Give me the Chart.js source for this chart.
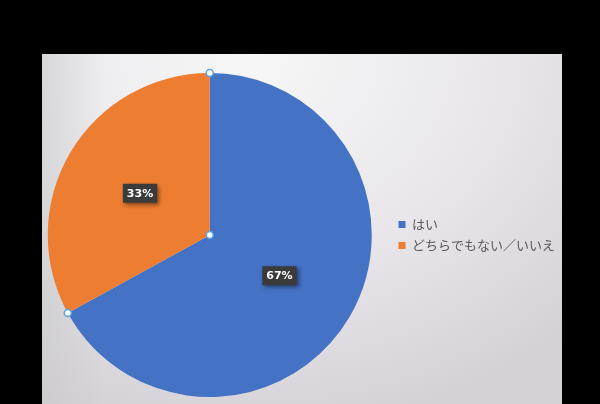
<!DOCTYPE html>
<html>
<head>
<meta charset="utf-8">
<script src="https://cdn.jsdelivr.net/npm/chart.js@4/dist/chart.umd.min.js"></script>
<style>
  html, body { margin: 0; padding: 0; background: #000; }
  body { width: 600px; height: 404px; position: relative; overflow: hidden; }
  #panel {
    position: absolute; left: 42px; top: 54px; width: 520px; height: 350px;
    background:
      linear-gradient(to right, rgba(200,200,200,0.55) 0%, rgba(220,220,220,0) 12%),
      radial-gradient(ellipse 90% 110% at 40% 0%, #f7f7f7 0%, #e8e6ea 55%, #d4d1d6 100%);
  }
  #wrap { position: absolute; left: 29px; top: 54px; width: 536px; height: 350px; }
</style>
</head>
<body>
<div id="panel"></div>
<div id="wrap"><canvas id="chart"></canvas></div>
<script>
// 回答の割合
const answers = ["はい", "どちらでもない／いいえ"];
const shares = [67, 33];
const sliceColors = ["#4472c4", "#ed7d31"];

// % labels in dark boxes, like the excel data labels
const percentLabels = {
  id: "percentLabels",
  afterDatasetsDraw(chart) {
    const ctx = chart.ctx;
    const meta = chart.getDatasetMeta(0);
    const total = shares.reduce((a, b) => a + b, 0);
    ctx.save();
    ctx.font = "bold 11px 'DejaVu Sans', sans-serif";
    ctx.textAlign = "center";
    ctx.textBaseline = "middle";
    meta.data.forEach((arc, i) => {
      const p = arc.getProps(["x", "y", "startAngle", "endAngle", "outerRadius"], true);
      const mid = (p.startAngle + p.endAngle) / 2;
      const x = p.x + Math.cos(mid) * p.outerRadius * 0.5;
      const y = p.y + Math.sin(mid) * p.outerRadius * 0.5;
      const txt = Math.round(shares[i] / total * 100) + "%";
      const w = ctx.measureText(txt).width + 8;
      ctx.shadowColor = "rgba(0,0,0,0.45)";
      ctx.shadowBlur = 4;
      ctx.shadowOffsetX = 2;
      ctx.shadowOffsetY = 2;
      ctx.fillStyle = "#3b3b3b";
      ctx.fillRect(x - w / 2, y - 10, w, 19);
      ctx.shadowColor = "transparent";
      ctx.fillStyle = "#ffffff";
      ctx.fillText(txt, x, y);
    });
    ctx.restore();
  }
};

// selection handles on the pie
const handles = {
  id: "handles",
  afterDraw(chart) {
    const ctx = chart.ctx;
    const meta = chart.getDatasetMeta(0);
    const pts = [];
    meta.data.forEach((arc, i) => {
      const p = arc.getProps(["x", "y", "startAngle", "outerRadius"], true);
      if (i === 0) pts.push([p.x, p.y]);
      pts.push([p.x + Math.cos(p.startAngle) * p.outerRadius, p.y + Math.sin(p.startAngle) * p.outerRadius]);
    });
    ctx.save();
    pts.forEach(([x, y]) => {
      ctx.beginPath();
      ctx.arc(x, y, 3.5, 0, Math.PI * 2);
      ctx.fillStyle = "#ffffff";
      ctx.fill();
      ctx.lineWidth = 1.5;
      ctx.strokeStyle = "#5ba3e0";
      ctx.stroke();
    });
    ctx.restore();
  }
};

new Chart(document.getElementById("chart"), {
  type: "pie",
  data: {
    labels: answers,
    datasets: [{
      data: shares,
      backgroundColor: sliceColors,
      borderWidth: 0
    }]
  },
  options: {
    responsive: true,
    maintainAspectRatio: false,
    animation: false,
    layout: { padding: { top: 19, bottom: 7, left: 0, right: 0 } },
    plugins: {
      legend: {
        position: "right",
        labels: {
          boxWidth: 7,
          boxHeight: 7,
          padding: 8,
          color: "#595959",
          font: { size: 13, family: "'Noto Sans CJK JP', sans-serif" }
        }
      },
      tooltip: { enabled: false }
    }
  },
  plugins: [percentLabels, handles]
});
</script>
</body>
</html>
